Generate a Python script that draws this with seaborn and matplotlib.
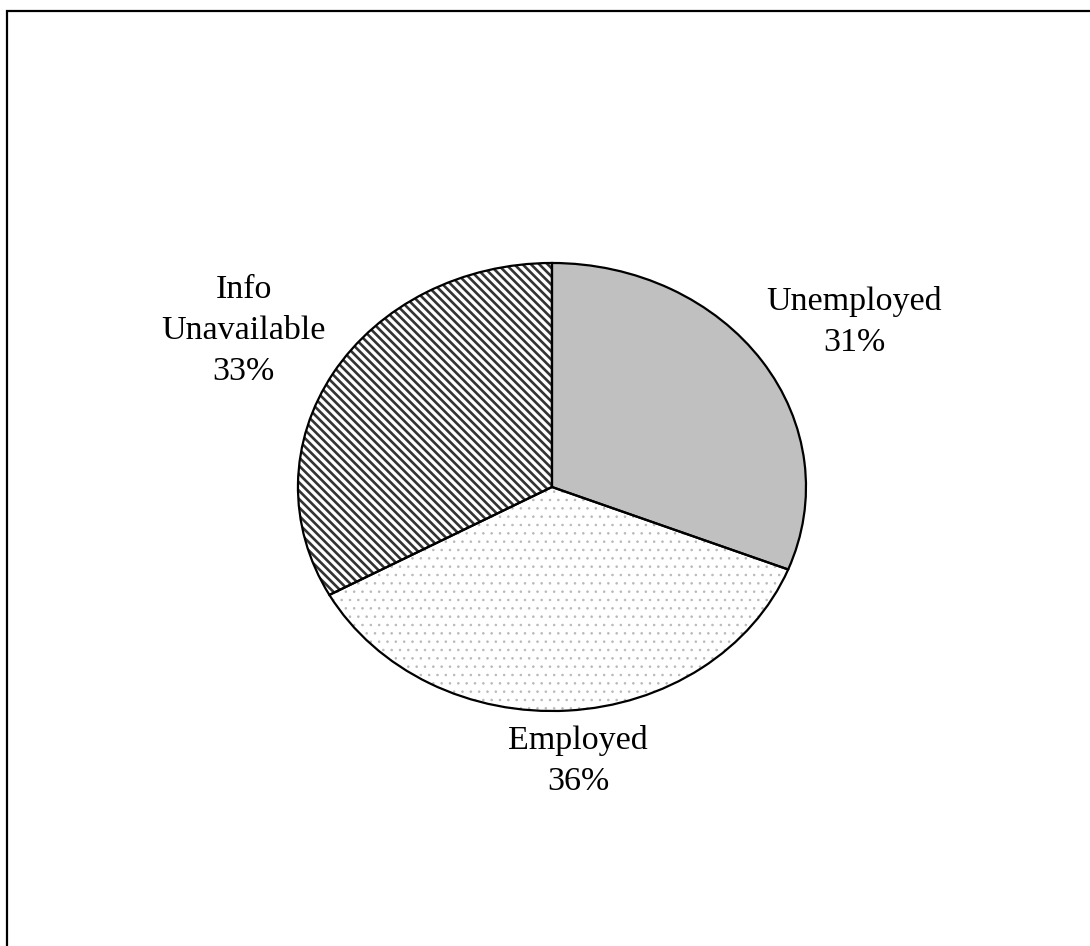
import matplotlib
matplotlib.use("Agg")
import matplotlib.pyplot as plt
from matplotlib.patches import Rectangle
import seaborn as sns

# Data
categories = ["Unemployed", "Employed", "Info\nUnavailable"]
shares = [31, 36, 33]
label_pos = [(1.19, 0.738), (0.102, -1.225), (-1.213, 0.698)]

sns.set_theme(style="white")
plt.rcParams['font.family'] = ['Liberation Serif', 'DejaVu Serif']
plt.rcParams['hatch.linewidth'] = 1.9

fills = ["#c0c0c0", "white", "white"]
hatches = [None, "..", "\\\\\\\\"]
hatch_colors = ["#c0c0c0", "#b8b8b8", "#333333"]
hatch_widths = [1.0, 0.6, 1.9]

fig = plt.figure(figsize=(10.9, 9.46), dpi=100)
ax = fig.add_axes([0.2151, 0.1892, 0.5826, 0.5920])

labels = [f"{c}\n{s}%" for c, s in zip(categories, shares)]

# first pass: fills and hatching (hatch takes the edge colour)
wedges, texts = ax.pie(shares, labels=labels, startangle=90, counterclock=False,
                       colors=fills, labeldistance=1.3,
                       wedgeprops=dict(linewidth=0),
                       textprops=dict(fontsize=24.5, color="black"))
for w, h, hc, hw in zip(wedges, hatches, hatch_colors, hatch_widths):
    if h:
        w.set_hatch(h)
    w.set_edgecolor(hc)
    w.set_linewidth(0)
    if hasattr(w, "set_hatch_linewidth"):
        w.set_hatch_linewidth(hw)

for t, pos in zip(texts, label_pos):
    t.set_position(pos)
    t.set_ha("center")
    t.set_va("center")
    t.set_linespacing(1.45)

# second pass: black outlines on top
ax.pie(shares, startangle=90, counterclock=False,
       wedgeprops=dict(fill=False, edgecolor="black", linewidth=1.6))

ax.set_aspect("auto")
ax.set_xlim(-1.25, 1.25)
ax.set_ylim(-1.25, 1.25)
ax.axis("off")

# chart border (only top and left edges are inside the image)
fig.add_artist(Rectangle((7 / 1090, -0.2), 1.5, 1.2 - 11 / 946,
                         transform=fig.transFigure, fill=False,
                         edgecolor="black", linewidth=1.6))

fig.savefig("out.png", dpi=100, facecolor="white")
